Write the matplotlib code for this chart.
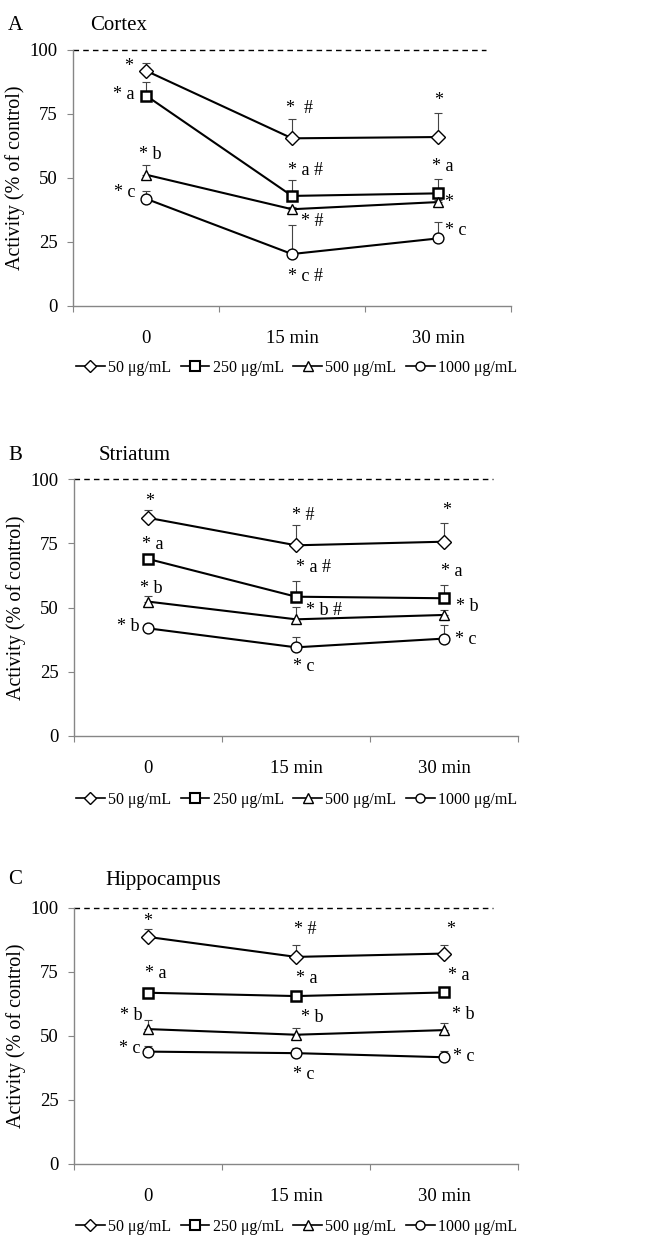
import matplotlib
matplotlib.use("Agg")
import matplotlib.pyplot as plt
from matplotlib.lines import Line2D

# x categories and series
times = ["0", "15 min", "30 min"]
conc_labels = ["50 \u03bcg/mL", "250 \u03bcg/mL", "500 \u03bcg/mL", "1000 \u03bcg/mL"]
markers = ["D", "s", "^", "o"]

# means / upper error, one row per concentration
cortex_mean = [[91.9, 65.5, 66.0], [82.2, 43.0, 44.0], [51.3, 37.8, 40.6], [41.9, 20.3, 26.4]]
cortex_err = [[3.2, 7.5, 9.3], [5.2, 6.2, 5.7], [3.7, 1.0, 1.0], [3.1, 11.2, 6.3]]
striatum_mean = [[84.9, 74.2, 75.6], [68.9, 54.2, 53.6], [52.3, 45.4, 47.1], [41.9, 34.5, 37.9]]
striatum_err = [[3.0, 7.8, 7.2], [1.5, 6.0, 5.0], [2.2, 4.9, 2.0], [1.0, 4.1, 5.1]]
hippo_mean = [[88.7, 80.9, 82.2], [66.9, 65.6, 67.0], [52.7, 50.5, 52.3], [43.9, 43.3, 41.7]]
hippo_err = [[3.0, 4.6, 3.3], [1.0, 1.0, 1.0], [3.5, 2.5, 2.6], [2.3, 2.1, 2.3]]

# significance marks, same layout as the means
cortex_sig = [["*", "*  #", "*"], ["* a", "* a #", "* a"], ["* b", "* #", "*"], ["* c", "* c #", "* c"]]
striatum_sig = [["*", "* #", "*"], ["* a", "* a #", "* a"], ["* b", "* b #", "* b"], ["* b", "* c", "* c"]]
hippo_sig = [["*", "* #", "*"], ["* a", "* a", "* a"], ["* b", "* b", "* b"], ["* c", "* c", "* c"]]

# label offsets in pixels (dx, dy) from each point
cortex_off = [[(-17, 4), (8, 30), (1, 37)], [(-22, 1), (13, 25), (5, 27)],
              [(4, 20), (20, -12), (11, 0)], [(-21, 6), (13, -22), (18, 8)]]
striatum_off = [[(2, 16), (7, 30), (3, 31)], [(5, 14), (18, 29), (8, 27)],
                [(3, 13), (28, 9), (23, 8)], [(-20, 2), (8, -19), (22, -1)]]
hippo_off = [[(0, 15), (9, 27), (7, 24)], [(8, 19), (11, 18), (15, 17)],
             [(-17, 14), (16, 17), (19, 16)], [(-18, 3), (8, -21), (20, 1)]]

plt.rcParams["font.family"] = ["Liberation Serif", "DejaVu Serif"]
W, H = 649, 1241
fig = plt.figure(figsize=(W / 100, H / 100), dpi=100)

panels = [
    ("A", "Cortex", cortex_mean, cortex_err, cortex_sig, cortex_off, (73, 511, 50, 306), 368),
    ("B", "Striatum", striatum_mean, striatum_err, striatum_sig, striatum_off, (74, 518, 479, 736), 800),
    ("C", "Hippocampus", hippo_mean, hippo_err, hippo_sig, hippo_off, (74, 518, 908, 1164), 1227),
]
title_x = {"A": 90, "B": 99, "C": 105}
letter_y = {"A": 25, "B": 455, "C": 880}

spine_col = "#868686"
for letter, name, means, errs, sigs, offs, (x0, x1, ytop, ybot), leg_y in panels:
    ax = fig.add_axes([x0 / W, 1 - ybot / H, (x1 - x0) / W, (ybot - ytop) / H])
    xs = list(range(len(times)))
    for i in range(len(means)):
        ax.errorbar(xs, means[i], yerr=[[0] * 3, errs[i]], fmt="none",
                    ecolor="#444444", elinewidth=0.8, capsize=3, capthick=0.8, zorder=2)
        ax.plot(xs, means[i], color="black", lw=1.5, marker=markers[i],
                ms=7.8 if markers[i] != "D" else 7.2, mfc="white", mec="black",
                mew=1.8 if markers[i] == "s" else 1.0, zorder=3, clip_on=False)
        for j in xs:
            dx, dy = offs[i][j]
            ax.annotate(sigs[i][j], (j, means[i][j]), xytext=(dx, dy),
                        textcoords="offset pixels", ha="center", va="center", fontsize=13)
    ax.plot([-0.5, 2.33], [100, 100], ls=(0, (4, 3)), color="black", lw=1.0, clip_on=False)
    ax.set_xlim(-0.5, 2.5)
    ax.set_ylim(0, 100)
    ax.set_yticks([0, 25, 50, 75, 100])
    ax.set_xticks([-0.5, 0.5, 1.5, 2.5])
    ax.set_xticklabels([])
    ax.set_xticks(xs, minor=True)
    ax.set_xticklabels(times, minor=True)
    ax.tick_params(axis="x", which="major", length=4, color=spine_col, direction="out")
    ax.tick_params(axis="x", which="minor", length=0, pad=17, labelsize=13.5)
    ax.tick_params(axis="y", length=4, color=spine_col, pad=7, labelsize=13.5)
    for s in ["top", "right"]:
        ax.spines[s].set_visible(False)
    for s in ["left", "bottom"]:
        ax.spines[s].set_color(spine_col)
        ax.spines[s].set_linewidth(1.0)
    ax.set_ylabel("Activity (% of control)", fontsize=14.5, labelpad=3)

    fig.text(8 / W, 1 - letter_y[letter] / H, letter, fontsize=15, va="center", ha="left")
    fig.text(title_x[letter] / W, 1 - letter_y[letter] / H, name, fontsize=15, va="center", ha="left")

    handles = [Line2D([], [], color="black", lw=1.2, marker=m, ms=6.5 if m != "D" else 6,
                      mfc="white", mec="black", mew=1.5 if m == "s" else 1.0) for m in markers]
    fig.legend(handles, conc_labels, loc="center left", bbox_to_anchor=(76 / W, 1 - leg_y / H),
               ncol=4, frameon=False, fontsize=11.5, handlelength=1.8, handletextpad=0.2,
               columnspacing=0.6, borderaxespad=0, borderpad=0)

fig.savefig("out.png", dpi=100)
